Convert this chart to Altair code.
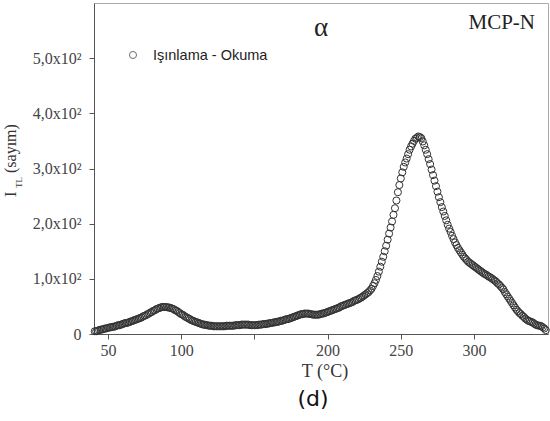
import altair as alt
import pandas as pd

# Temperature (°C), 1 °C steps as in the reading record
temps = list(range(41, 350))
# TL intensity (counts)
counts = [
    5, 5, 6, 7, 8, 8, 9, 10, 10, 11,            # 41-50
    12, 12, 13, 13, 14, 15, 16, 16, 17, 18,     # 51-60
    19, 20, 20, 21, 22, 23, 24, 25, 26, 27,     # 61-70
    28, 29, 30, 32, 33, 34, 36, 37, 39, 40,     # 71-80
    42, 43, 45, 46, 47, 48, 49, 49, 49, 49,     # 81-90
    48, 48, 47, 46, 45, 43, 42, 40, 38, 36,     # 91-100
    35, 33, 31, 30, 28, 27, 25, 24, 23, 22,     # 101-110
    21, 20, 19, 18, 17, 17, 16, 16, 15, 15,     # 111-120
    15, 14, 14, 14, 14, 14, 14, 14, 14, 14,     # 121-130
    15, 15, 15, 15, 15, 15, 16, 16, 16, 16,     # 131-140
    17, 17, 17, 17, 17, 17, 16, 16, 16, 16,     # 141-150
    16, 16, 17, 17, 17, 18, 18, 18, 19, 19,     # 151-160
    20, 20, 21, 21, 22, 22, 23, 24, 24, 25,     # 161-170
    26, 27, 27, 28, 29, 30, 31, 32, 33, 34,     # 171-180
    35, 36, 36, 37, 37, 37, 37, 36, 36, 35,     # 181-190
    35, 35, 35, 35, 36, 37, 37, 38, 39, 40,     # 191-200
    41, 42, 43, 44, 45, 46, 47, 48, 50, 51,     # 201-210
    52, 53, 54, 55, 56, 57, 58, 60, 61, 62,     # 211-220
    63, 65, 66, 68, 70, 72, 74, 76, 79, 82,     # 221-230
    87, 92, 98, 105, 113, 122, 131, 140, 150, 160,      # 231-240
    171, 182, 193, 204, 216, 228, 242, 257, 270, 282,   # 241-250
    293, 303, 311, 318, 326, 334, 340, 345, 350, 354,   # 251-260
    356, 358, 357, 355, 349, 342, 334, 326, 317, 308,   # 261-270
    298, 288, 278, 268, 258, 248, 239, 230, 222, 214,   # 271-280
    206, 198, 191, 185, 178, 172, 166, 161, 156, 152,   # 281-290
    148, 144, 140, 137, 134, 131, 129, 127, 125, 123,   # 291-300
    121, 119, 117, 115, 113, 111, 109, 108, 106, 104,   # 301-310
    103, 101, 99, 97, 95, 92, 90, 87, 84, 81,           # 311-320
    76, 72, 68, 64, 60, 56, 52, 48, 44, 41,             # 321-330
    38, 36, 33, 31, 28, 26, 24, 23, 22, 21,             # 331-340
    19, 17, 16, 15, 15, 14, 12, 10, 7,                  # 341-349
]

x_ticks = [50, 100, 150, 200, 250, 300]
y_ticks = [0, 100, 200, 300, 400, 500]

df = pd.DataFrame({"T": temps, "I": counts})

SERIF = "Liberation Serif"
GREY = "#444444"

x_scale = alt.Scale(domain=[40.5, 350.5], nice=False, zero=False)
y_scale = alt.Scale(domain=[0, 600], nice=False)

points = alt.Chart(df).mark_point(
    shape="circle", filled=False, size=50, stroke="#333333", strokeWidth=1, opacity=1
).encode(
    x=alt.X("T:Q", scale=x_scale, axis=alt.Axis(
        values=x_ticks, title=None, grid=False, tickSize=5, labelPadding=3,
        labelExpr="datum.value == 150 ? '' : datum.label",
        labelFont=SERIF, labelFontSize=16, labelColor=GREY,
        domainColor="#555555", tickColor="#555555", labelFlush=False)),
    y=alt.Y("I:Q", scale=y_scale, axis=alt.Axis(
        values=y_ticks, title=None, grid=False, tickSize=5, labelPadding=8,
        labelExpr="datum.value == 0 ? '0' : replace(format(datum.value/100, '.1f'), '.', ',') + 'x10²'",
        labelFont=SERIF, labelFontSize=16, labelColor=GREY,
        domainColor="#555555", tickColor="#555555", labelFlush=False)),
)

def txt(text, x, y, size, font=SERIF, color="#222222", align="center",
        baseline="middle", angle=0):
    kw = dict(text=text, font=font, fontSize=size, color=color, align=align,
              baseline=baseline)
    if angle:
        kw["angle"] = angle
    return alt.Chart(pd.DataFrame({"a": [0]})).mark_text(**kw).encode(
        x=alt.value(x), y=alt.value(y))

legend_pt = alt.Chart(pd.DataFrame({"a": [0]})).mark_point(
    shape="circle", filled=False, size=50, stroke="#333333", strokeWidth=1
).encode(x=alt.value(39), y=alt.value(52))

layers = [
    points,
    legend_pt,
    txt("Işınlama - Okuma", 59, 53, 14.5, font="Liberation Sans", align="left"),
    txt("α", 227, 25, 27),
    txt("MCP-N", 441, 20, 21, align="right"),
    txt("T (°C)", 231, 369, 18, color="#333333"),
    txt("(d)", 219, 396, 22, font="DejaVu Sans", color="#111111"),
    txt("I", -78, 194, 16, color="#333333", align="left", baseline="alphabetic", angle=270),
    txt("TL", -72, 185, 9, color="#333333", align="left", baseline="alphabetic", angle=270),
    txt("(sayım)", -78, 170, 16, color="#333333", align="left", baseline="alphabetic", angle=270),
]

chart = alt.layer(*layers).properties(
    width=454, height=331,
    autosize=alt.AutoSizeParams(type="none"),
    padding={"left": 94, "top": 3, "right": 2, "bottom": 87},
    background="white",
).configure_view(stroke="#aaaaaa", strokeWidth=1)

chart.save("out.html", embed_options={"renderer": "svg", "actions": False})
